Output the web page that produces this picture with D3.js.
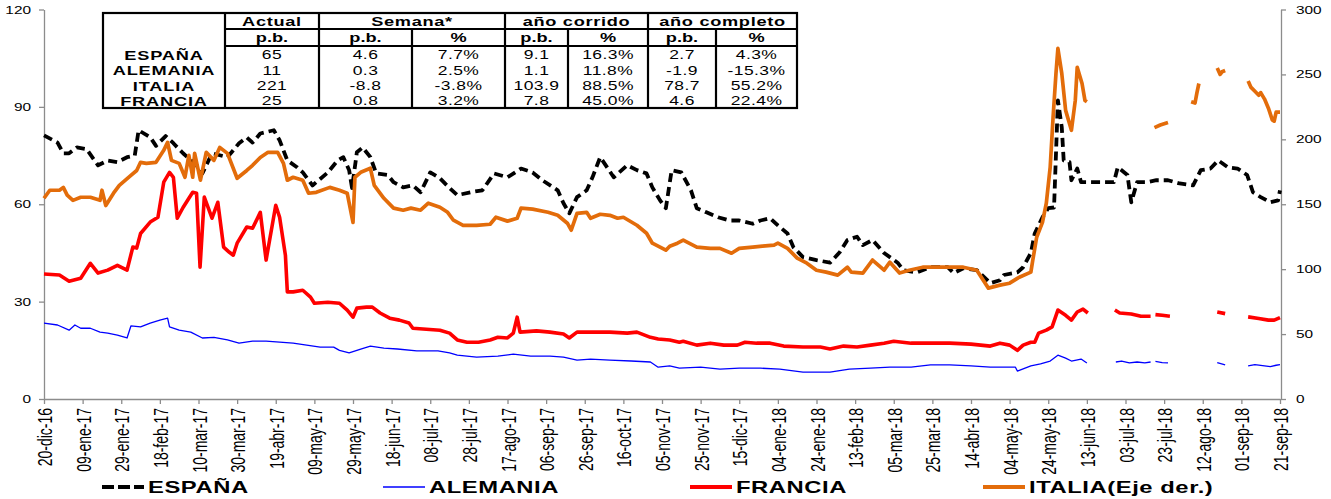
<!DOCTYPE html>
<html>
<head>
<meta charset="utf-8">
<script src="https://cdn.jsdelivr.net/npm/d3@7"></script>
<style>
body { margin: 0; background: #fff; }
svg { display: block; }
text { font-family: "Liberation Sans", Arial, sans-serif; fill: #000; }
</style>
</head>
<body>
<script>
// el gráfico original está estirado en horizontal: el texto se escala igual
var SX = 1.4;
var W = 1331, H = 499;

/** datos */
var inicio = Date.UTC(2016, 11, 20);   // 20-dic-16, los días de cada serie cuentan desde aquí
var DIA = 864e5;
var meses = ["ene", "feb", "mar", "abr", "may", "jun", "jul", "ago", "sep", "oct", "nov", "dic"];
var diasTicks = d3.range(0, 641, 20);
var ticksIzq = [0, 30, 60, 90, 120];
var ticksDer = [0, 50, 100, 150, 200, 250, 300];

// [día, valor] ; null = sin dato
var espana = [[0,81.2],[7,79],[10,75.7],[13,75.7],[17,77.5],[22,77],[28,72],[33,73.5],[38,73],[43,74.5],[47,75],
  [49,82.8],[55,80.6],[58,78],[63,81],[67,78.8],[72,75.7],[79,72],[82,69.5],[87,75.7],[95,74.5],[101,78.8],
  [105,80.6],[108,79],[112,81.8],[119,82.8],[122,79.7],[126,73.5],[131,71.4],[134,69.8],[139,65.8],[147,69.8],
  [152,73.5],[155,74.5],[158,70.5],[159.5,65],[162,76],[165,77.5],[169,74.5],[172,69.5],[178,69],[181,66.8],
  [186,65.2],[191,65.8],[195,63.7],[200,69.8],[205,68],[210,65],[214,62.8],[221,63.7],[227,64.3],[233,69.5],
  [240,68.3],[247,71],[253,69.8],[258,67.4],[266,64.3],[269,60.3],[272,57.2],[276,62.2],[281,64.3],[284,68.3],
  [288,74.5],[292,71],[295,68.3],[302,72],[307,70.5],[312,69.5],[315,65.2],[319,61.2],[322,58.8],[325,70.5],
  [330,69.8],[335,64.3],[338,58.8],[343,57.5],[349,56],[355,55],[360,55],[367,54],[371,55],[376,55.7],[380,53.5],
  [385,51],[388,46.8],[393,43.7],[400,42.8],[407,42],[412,45.2],[416,49],[421,50],[424,47.4],[429,49],[435,45],
  [442,42],[445,39.7],[452,39],[459,40.6],[468,40.6],[471,38.8],[476,40.3],[483,39.7],[490,35.7],[495,36.6],
  [497,38.2],[504,39],[507,40.6],[511,45],[513,51],[517,56],[520,58.8],[523,59],[525,92],[527,83.7],[528,73.5],
  [531,73],[532,67.4],[535,71],[537,66.8],[542,66.8],[551,66.8],[554,66.8],[556,71.4],[561,69],[563,60.6],
  [566,66.8],[571,66.8],[576,67.4],[582,67.4],[588,66.4],[595,65.8],[599,70.5],[604,71],[608,73.5],[613,71.4],
  [618,71],[623,69],[626,63.7],[630,62.2],[635,60.6],[639,61.2],[640,64.3]];

var alemania = [[0,23.4],[7,22.8],[13,21.2],[16,22.8],[19,21.8],[24,21.8],[29,20.6],[33,20.3],[38,19.7],[43,18.8],
  [45,22.5],[50,22.2],[55,23.4],[60,24.3],[64,24.9],[65,22.2],[70,21.2],[76,20.6],[82,18.8],[88,19],[95,18.2],
  [101,17.2],[108,17.8],[115,17.8],[122,17.5],[129,17.2],[136,16.6],[143,16],[150,16],[153,15],[158,14.2],
  [164,15.4],[169,16.3],[176,15.7],[183,15.4],[193,14.8],[204,14.8],[210,14.2],[214,13.5],[224,12.9],[235,13.2],
  [243,13.8],[252,13.2],[262,13.2],[269,12.9],[276,12],[283,12.3],[293,12],[304,11.7],[314,11.4],[318,9.8],
  [324,10.2],[329,9.5],[340,9.8],[350,9.2],[360,9.5],[371,9.5],[381,9.2],[393,8.3],[407,8.3],[417,9.2],[428,9.5],
  [438,9.8],[449,9.8],[459,10.5],[469,10.5],[480,10.2],[490,9.8],[503,9.8],[504,8.6],[511,10.2],[516,10.8],
  [521,11.7],[525,13.5],[529,12.6],[532,11.7],[537,12.3],[540,11.1],[541,null],
  [555,11.4],[558,11.7],[562,11.1],[566,11.4],[570,11.1],[573,11.4],[574,null],
  [575.5,11.6],[579,11.2],[582,11.1],[583,null],[607.5,11.2],[611.6,10.5],[612,null],
  [623.5,10.2],[627,10.6],[631,10.3],[635,10],[638,10.4],[640,10.6]];

var francia = [[0,38.5],[8,38.2],[13,36.3],[19,37.2],[24,41.8],[28,38.8],[33,39.7],[38,41.2],[43,39.7],[46,46.8],
  [48,46.5],[50,51],[55,54.5],[59,56],[62,66.8],[65,69.8],[67,68.3],[69,55.7],[72,59],[77,63.7],[79,63.4],
  [80.8,40.6],[83,62.2],[87,55.7],[90,60.6],[93,46.8],[96,45.2],[98,44.3],[100,48],[105,53],[108,52.6],[112,57.5],
  [115,42.8],[120,59.7],[122,56],[125,44.3],[126,33],[129,33],[134,33.5],[138,31.4],[140,29.5],[147,29.8],
  [153,29.5],[157,27.4],[160,25.2],[162,28],[167,28.3],[170,28.3],[174,26.5],[179,24.9],[184,24.3],[189,23.4],
  [191,21.8],[198,21.5],[205,21.2],[210,20.3],[214,18.2],[219,17.5],[225,17.5],[231,18.2],[235,19],[240,18.8],
  [243,20.3],[245,25.2],[246.5,20.6],[255,21],[262,20.6],[269,20],[272,18.8],[276,20.6],[283,20.6],[293,20.6],
  [302,20.3],[307,20.6],[314,19],[318,18.5],[324,18.2],[329,17.5],[331,17.8],[338,16.6],[345,17.2],[352,16.6],
  [359,16.6],[363,17.5],[369,17.2],[376,17.2],[383,16.3],[393,16],[402,16],[407,15.4],[414,16.3],[421,16],
  [428,16.6],[435,17.2],[440,17.8],[449,17.2],[459,17.2],[469,17.2],[480,16.9],[490,16.3],[495,17.2],[500,16.6],
  [504,15],[507,16.6],[511,17.5],[513,17.5],[515,20.3],[519,21.2],[522,22.2],[525,27.4],[529,25.8],[532,24.3],
  [535,26.8],[538,27.7],[540.5,26.5],[541,null],
  [554.5,27.4],[557,26.5],[563,26.2],[568,25.5],[573,25.5],[574.5,null],[575.5,26],[579,25.8],[583,25.5],[584,null],
  [607.5,26.8],[611.6,26.3],[612,null],[623.5,25.3],[629,24.8],[634,24.3],[637,24.3],[640,25.1]];

// eje derecho
var italia = [[0,154.6],[3,160.8],[8,160.8],[10,163],[12,157],[15,153],[19,155.4],[24,155.4],[29,153],[30,160.8],
  [32,149],[36,158.5],[39,164.6],[45,172.3],[48,176],[50,182.3],[53,181.5],[58,182.3],[62,191.5],[64,197.7],
  [66,183.8],[70,181.5],[73,170.8],[75,187.7],[77,170.8],[78,189.2],[81,168.5],[84,190],[88,183.8],[91,193.8],
  [95,189.2],[100,170],[105,176],[108,180],[112,186],[116,190],[121,190],[124,181.5],[126,168.5],[129,170.8],
  [134,168.5],[137,158.5],[141,159.2],[148,163],[153,160.8],[157,158.5],[160,136],[161,170.8],[164,174.6],
  [169,177.7],[171,164.6],[176,154.6],[181,147],[186,145.4],[190,147],[195,145.4],[199,150.8],[205,147.7],
  [209,143.8],[212,137.7],[217,133.8],[224,133.8],[231,134.6],[234,140],[240,137],[245,139.2],[247,147],
  [253,146.2],[261,143.8],[266,141.5],[271,135.4],[273,130],[276,143],[281,143.8],[283,139.2],[288,142.3],
  [293,141.5],[297,139.2],[300,140],[307,133.8],[312,127.7],[315,120],[319,117],[322,114.6],[324,117.7],
  [328,120],[331,122.3],[338,117],[345,116],[350,116],[356,112.3],[360,116],[367,117],[372,117.7],[378,118.5],
  [380,120],[385,116],[390,108.5],[395,104.6],[400,99.2],[405,97.7],[411,95.4],[416,101.5],[418,97.7],[424,97],
  [429,107],[435,99.2],[438,105.4],[443,97],[448,99.2],[455,101.5],[462,101.5],[469,101.5],[476,101.5],
  [483,99.2],[489,85.4],[495,87.7],[500,89.2],[505,93.8],[511,97.7],[512,107],[514,124.6],[517,136],[519,150.8],
  [521,178.5],[522.5,217],[524,250.8],[525,270],[527,250.8],[529,222.3],[532,207],[534,230],[535,255.4],
  [537.5,243],[539,230],[540,229],[541,null],
  [575,209],[578,211],[582,213],[583,null],[594,229],[596,228],[597,236],[598,243],[599,null],
  [607.5,255],[609,250],[610,252],[611.6,253],[612,null],
  [623.5,245],[625,240],[627,237],[629,234],[630,236],[632,231],[634,224],[636,215],[637,214],[638,221],[640,221]];

// tabla
var filas = ["ESPAÑA", "ALEMANIA", "ITALIA", "FRANCIA"];
var encabezados = ["Actual", "Semana*", "año corrido", "año completo"];
var unidades = ["p.b.", "p.b.", "%", "p.b.", "%", "p.b.", "%"];
var actualPb = [65, 11, 221, 25];
var semanaPb = [4.6, 0.3, -8.8, 0.8];
var semanaPct = [7.7, 2.5, -3.8, 3.2];
var corridoPb = [9.1, 1.1, 103.9, 7.8];
var corridoPct = [16.3, 11.8, 88.5, 45.0];
var completoPb = [2.7, -1.9, 78.7, 4.6];
var completoPct = [4.3, -15.3, 55.2, 22.4];

var leyenda = ["ESPAÑA", "ALEMANIA", "FRANCIA", "ITALIA(Eje der.)"];
var colores = ["#000000", "#0000FF", "#FF0000", "#E36C0A"];

/** escalas */
var x = d3.scaleUtc().domain([inicio, inicio + 640 * DIA]).range([44, 1280]);
var yIzq = d3.scaleLinear().domain([0, 120]).range([399, 9.5]);
var yDer = d3.scaleLinear().domain([0, 300]).range([399, 9.5]);

var svg = d3.select("body").append("svg").attr("width", W).attr("height", H);

// texto estirado en horizontal
function texto(g, px, py, s, size, peso, ancla) {
    return g.append("text")
        .attr("transform", "translate(" + px + "," + py + ") scale(" + SX + ",1)")
        .attr("dy", "0.35em")
        .attr("text-anchor", ancla || "middle")
        .style("font-size", size + "px")
        .style("font-weight", peso || "normal")
        .text(s);
}

/** ejes */
var fmt = function (t) {
    return d3.utcFormat("%d")(t) + "-" + meses[t.getUTCMonth()] + "-" + d3.utcFormat("%y")(t);
};
var ejeX = svg.append("g").attr("transform", "translate(0,399)")
    .call(d3.axisBottom(x).tickValues(diasTicks.map(function (d) { return new Date(inicio + d * DIA); }))
        .tickFormat(fmt).tickSize(5).tickSizeOuter(0));
ejeX.selectAll("text")
    .attr("transform", "scale(1.5,1) rotate(-90)")
    .attr("x", -9).attr("y", 0).attr("dy", "0.36em")
    .style("text-anchor", "end").style("font-size", "14px");

var ejeI = svg.append("g").attr("transform", "translate(44,0)")
    .call(d3.axisLeft(yIzq).tickValues(ticksIzq).tickSize(5).tickSizeOuter(0));
ejeI.selectAll("text").attr("transform", "scale(" + SX + ",1)").attr("x", -13 / SX).style("font-size", "11px");

var ejeD = svg.append("g").attr("transform", "translate(1281,0)")
    .call(d3.axisRight(yDer).tickValues(ticksDer).tickSize(5).tickSizeOuter(0));
ejeD.selectAll("text").attr("transform", "scale(" + SX + ",1)").attr("x", 15 / SX).style("font-size", "11px");

svg.selectAll(".domain, .tick line").attr("stroke", "#8c8c8c").attr("stroke-width", 1.3);
svg.selectAll(".tick text").attr("fill", "#000");

/** series */
function linea(esc) {
    return d3.line()
        .defined(function (d) { return d[1] != null; })
        .x(function (d) { return x(inicio + d[0] * DIA); })
        .y(function (d) { return esc(d[1]); });
}
var series = [
    { datos: alemania, esc: yIzq, color: colores[1], ancho: 1.3, guion: null },
    { datos: francia, esc: yIzq, color: colores[2], ancho: 3.6, guion: null },
    { datos: espana, esc: yIzq, color: colores[0], ancho: 3.8, guion: "9,5" },
    { datos: italia, esc: yDer, color: colores[3], ancho: 3.7, guion: null }
];
series.forEach(function (s) {
    svg.append("path").datum(s.datos)
        .attr("fill", "none")
        .attr("stroke", s.color)
        .attr("stroke-width", s.ancho)
        .attr("stroke-linejoin", "round")
        .attr("stroke-dasharray", s.guion)
        .attr("d", linea(s.esc));
});

/** tabla */
var colX = [103, 225, 319, 412, 505, 568, 648, 716, 797];
var tabla = svg.append("g");
tabla.append("rect").attr("x", 103).attr("y", 13).attr("width", 694).attr("height", 95)
    .attr("fill", "#fff").attr("stroke", "#000").attr("stroke-width", 2.2);
[225, 319, 505, 648].forEach(function (cx) {
    tabla.append("line").attr("x1", cx).attr("x2", cx).attr("y1", 13).attr("y2", 108)
        .attr("stroke", "#000").attr("stroke-width", 2.2);
});
[412, 568, 716].forEach(function (cx) {
    tabla.append("line").attr("x1", cx).attr("x2", cx).attr("y1", 29).attr("y2", 108)
        .attr("stroke", "#000").attr("stroke-width", 2.2);
});
[29, 46].forEach(function (cy) {
    tabla.append("line").attr("x1", 225).attr("x2", 797).attr("y1", cy).attr("y2", cy)
        .attr("stroke", "#000").attr("stroke-width", 2.2);
});
var centrosEnc = [(225 + 319) / 2, (319 + 505) / 2, (505 + 648) / 2, (648 + 797) / 2];
encabezados.forEach(function (e, i) {
    texto(tabla, centrosEnc[i], 21, e, 13, "bold").style("letter-spacing", "0.5px");
});
var centros = d3.range(1, 8).map(function (i) { return (colX[i] + colX[i + 1]) / 2; });
unidades.forEach(function (u, i) { texto(tabla, centros[i], 37.5, u, 13, "bold"); });

// guion normal como signo menos, igual que el original
var f1 = function (v) { return v.toFixed(1); };
var pct = function (v) { return f1(v) + "%"; };
var filasY = [55, 70.5, 86, 101];
filas.forEach(function (f, j) {
    texto(tabla, 164, filasY[j], f, 13, "bold").style("letter-spacing", "0.6px");
    var vals = [String(actualPb[j]), f1(semanaPb[j]), pct(semanaPct[j]), f1(corridoPb[j]),
        pct(corridoPct[j]), f1(completoPb[j]), pct(completoPct[j])];
    vals.forEach(function (v, i) { texto(tabla, centros[i], filasY[j], v, 12.5).style("letter-spacing", "0.3px"); });
});

/** leyenda */
var legX = [102, 383, 690, 983];
leyenda.forEach(function (l, i) {
    svg.append("line").attr("x1", legX[i]).attr("x2", legX[i] + 42).attr("y1", 487).attr("y2", 487)
        .attr("stroke", colores[i]).attr("stroke-width", i == 1 ? 1.5 : 3.8)
        .attr("stroke-dasharray", i == 0 ? "12,4" : null);
    texto(svg, legX[i] + 46, 487, l, 17, "bold", "start").style("letter-spacing", "0.4px");
});
</script>
</body>
</html>
